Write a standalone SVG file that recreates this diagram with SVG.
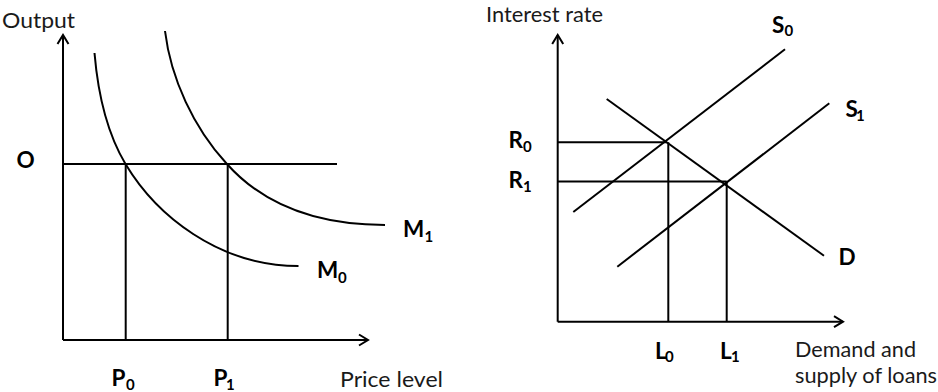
<svg xmlns="http://www.w3.org/2000/svg" width="938" height="392" viewBox="0 0 938 392">
<style>
.ln{fill:none;stroke:#000;stroke-width:2}
.ax{fill:none;stroke:#000;stroke-width:2;marker-end:url(#arr)}
.t{font-family:Lato,"Open Sans","Liberation Sans",sans-serif;font-size:21px;fill:#1a1a1a}
.b{font-family:Lato,"Open Sans","Liberation Sans",sans-serif;font-size:22.5px;font-weight:bold;fill:#000}
.s{font-size:15px}
</style>
<defs>
<marker id="arr" markerUnits="userSpaceOnUse" markerWidth="14" markerHeight="14" viewBox="-11 -7 13 14" refX="0" refY="0" orient="auto">
<path d="M-9,-5.5 L0,0 L-9,5.5" fill="none" stroke="#000" stroke-width="2"/>
</marker>
</defs>
<rect width="938" height="392" fill="#fff"/>
<g id="left-chart">
<g id="left-connectors">
<path class="ax" d="M63,340 L63,35"/>
<path class="ax" d="M63,340 L368,340"/>
<path class="ln" d="M63,164 L337,164"/>
<path class="ln" d="M125.7,164 L125.7,340"/>
<path class="ln" d="M227.7,164 L227.7,340"/>
<path id="M0-curve" class="ln" d="M94.5,53 C97.7,90.9 106,131.4 125.5,164 C156.3,215.4 218.5,266 298.5,266"/>
<path id="M1-curve" class="ln" d="M165,31 C170.8,78.7 193.8,128 226.5,163.5 C252.8,193.1 300,225 385,225"/>
</g>
<text id="output-label" class="t" x="2" y="28" textLength="73" lengthAdjust="spacingAndGlyphs">Output</text>
<text id="O-label" class="b" x="16.5" y="168">O</text>
<text id="M1-label" class="b" x="403" y="237">M<tspan class="s" x="424.5" y="242">1</tspan></text>
<text id="M0-label" class="b" x="317" y="278">M<tspan class="s" x="338" y="283">0</tspan></text>
<text id="P0-label" class="b" x="111.5" y="386">P<tspan class="s" x="126" y="390">0</tspan></text>
<text id="P1-label" class="b" x="213.5" y="386">P<tspan class="s" x="226" y="390">1</tspan></text>
<text id="price-label" class="t" x="340" y="387" textLength="103" lengthAdjust="spacingAndGlyphs">Price level</text>
</g>
<g id="right-chart">
<g id="right-connectors">
<path class="ax" d="M557.7,321.7 L557.7,35"/>
<path class="ax" d="M557.7,321.7 L843,321.7"/>
<path class="ln" d="M557.7,142.3 L667,142.3"/>
<path class="ln" d="M557.7,181.5 L726.7,181.5"/>
<path class="ln" d="M668.3,142.3 L668.3,321.7"/>
<path class="ln" d="M726.7,181.5 L726.7,321.7"/>
<path id="S0-line" class="ln" d="M573.3,212 L785,49.3"/>
<path id="S1-line" class="ln" d="M617.3,266.7 L829.3,103.3"/>
<path id="D-line" class="ln" d="M606.7,99 L824,255.7"/>
</g>
<text id="interest-label" class="t" x="486" y="21.7" textLength="117" lengthAdjust="spacingAndGlyphs">Interest rate</text>
<text id="S0-label" class="b" x="772" y="33.3">S<tspan class="s" x="784.5" y="36">0</tspan></text>
<text id="S1-label" class="b" x="845.5" y="116.7">S<tspan class="s" x="856" y="121">1</tspan></text>
<text id="R0-label" class="b" x="508.5" y="148">R<tspan class="s" x="523" y="152">0</tspan></text>
<text id="R1-label" class="b" x="508.5" y="188">R<tspan class="s" x="523" y="192">1</tspan></text>
<text id="D-label" class="b" x="838.5" y="265">D</text>
<text id="L0-label" class="b" x="655" y="359">L<tspan class="s" x="665" y="362">0</tspan></text>
<text id="L1-label" class="b" x="720" y="359">L<tspan class="s" x="731" y="362">1</tspan></text>
<text id="demand-label" class="t" x="795" y="357" textLength="121" lengthAdjust="spacingAndGlyphs">Demand and</text>
<text id="supply-label" class="t" x="795" y="383" textLength="142" lengthAdjust="spacingAndGlyphs">supply of loans</text>
</g>
</svg>
